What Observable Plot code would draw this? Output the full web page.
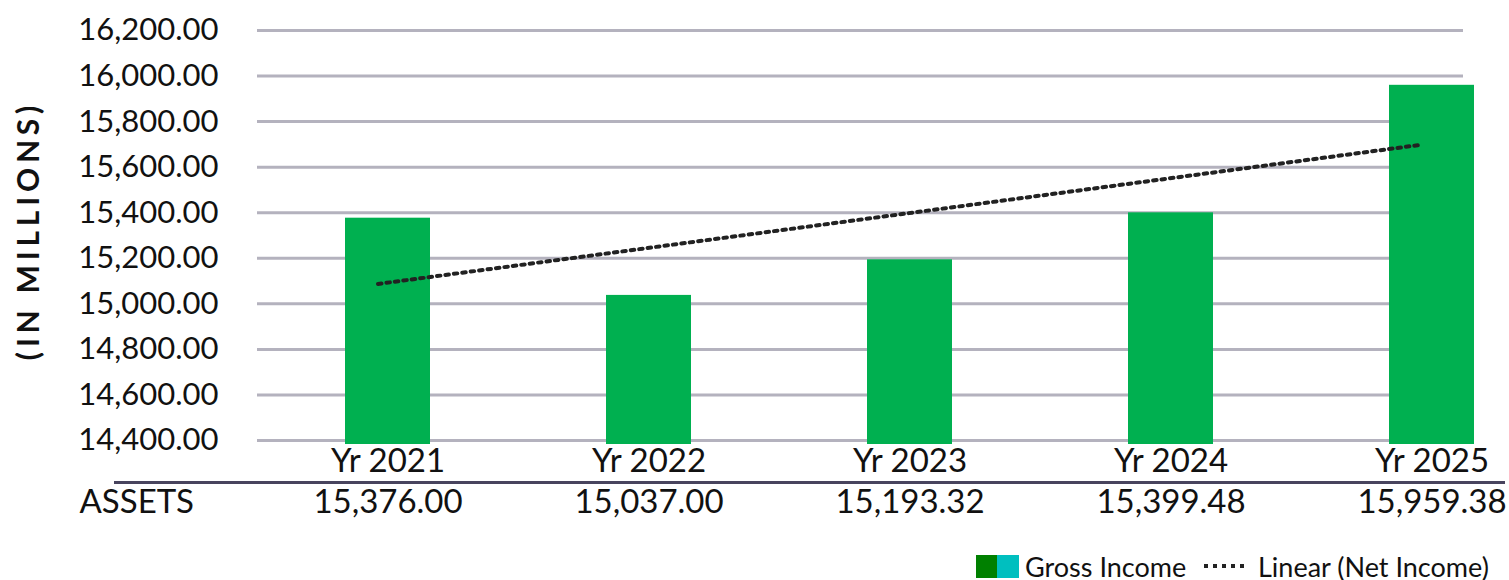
<!DOCTYPE html>
<html>
<head>
<meta charset="utf-8">
<script src="https://cdn.jsdelivr.net/npm/d3@7"></script>
<script src="https://cdn.jsdelivr.net/npm/@observablehq/plot@0.6"></script>
<style>
  html, body { margin: 0; padding: 0; background: #fff; }
  body { width: 1509px; height: 580px; overflow: hidden; font-family: Lato, "Open Sans", sans-serif; color: #111; }
  #legend { position: relative; width: 1509px; height: 40px; font-size: 27px; }
  #legend .sw { position: absolute; top: 15px; width: 22px; height: 23px; }
  #legend .lbl { position: absolute; top: 26px; transform: translateY(-50%); white-space: nowrap; line-height: 1; }
  #legend svg { position: absolute; top: 0; }
</style>
</head>
<body>
<div id="chart"></div>
<div id="legend">
  <div class="sw" style="left:976px;background:#008000"></div>
  <div class="sw" style="left:997px;background:#00BFBF"></div>
  <div class="lbl" style="left:1025px">Gross Income</div>
  <svg style="left:1200px" width="50" height="40"><line x1="4" x2="44" y1="26" y2="26" stroke="#222" stroke-width="4" stroke-dasharray="4,5"></line></svg>
  <div class="lbl" style="left:1258px">Linear (Net Income)</div>
</div>
<script>
const years = ["Yr 2021", "Yr 2022", "Yr 2023", "Yr 2024", "Yr 2025"];
const assets = [15376.00, 15037.00, 15193.32, 15399.48, 15959.38];
const yTicks = [14400, 14600, 14800, 15000, 15200, 15400, 15600, 15800, 16000, 16200];
const rowLabel = "ASSETS";
const yTitle = "(IN MILLIONS)";

const data = years.map((year, i) => ({year, value: assets[i]}));
const fmt = d3.format(",.2f");

// least-squares linear trend over the category index
const n = assets.length;
const xs = assets.map((_, i) => i + 1);
const mx = d3.mean(xs), my = d3.mean(assets);
const slope = d3.sum(xs, (x, i) => (x - mx) * (assets[i] - my)) / d3.sum(xs, x => (x - mx) ** 2);
const intercept = my - slope * mx;
const trend = [0, n - 1].map(i => ({year: years[i], value: intercept + slope * (i + 1)}));

const yMin = yTicks[0], yMax = yTicks[yTicks.length - 1];

const chart = Plot.plot({
  width: 1509,
  height: 540,
  marginTop: 30,
  marginBottom: 100,
  marginLeft: 257,
  marginRight: 46,
  style: {fontFamily: "Lato, 'Open Sans', sans-serif", color: "#111", background: "#fff"},
  x: {domain: years, range: [257, 1562], paddingInner: 0.676, paddingOuter: 0.338, axis: null},
  y: {domain: [yMin, yMax], axis: null},
  marks: [
    Plot.ruleY(yTicks, {stroke: "#b4b2be", strokeWidth: 3}),
    Plot.axisY(yTicks, {tickSize: 0, tickPadding: 39, tickFormat: fmt, fontSize: 31, label: null}),
    Plot.barY(data, {x: "year", y1: yMin, y2: "value", fill: "#00B050", insetBottom: -4}),
    Plot.line(trend, {x: "year", y: "value", stroke: "#222", strokeWidth: 4, strokeDasharray: "3.5,5", dx: -10}),
    Plot.text(years, {x: d => d, text: d => d, frameAnchor: "bottom", dy: 21, fontSize: 33, lineAnchor: "middle"}),
    Plot.ruleY([yMin], {dy: 42, insetLeft: -143, insetRight: -42, stroke: "#48445e", strokeWidth: 3}),
    Plot.text(data, {x: "year", text: d => fmt(d.value), frameAnchor: "bottom", dy: 62, fontSize: 33, lineAnchor: "middle"}),
    Plot.text([rowLabel], {frameAnchor: "bottom-left", dx: -178, dy: 62, textAnchor: "start", fontSize: 33, lineAnchor: "middle"}),
    Plot.text([yTitle], {frameAnchor: "left", textAnchor: "middle", dx: -228, dy: -5, rotate: -90, fontSize: 30, fontWeight: "bold", lineAnchor: "middle"})
  ]
});
d3.select(chart).selectAll("text").filter(function() { return this.textContent === yTitle; })
  .style("letter-spacing", "4.8px");
document.getElementById("chart").appendChild(chart);
</script>
</body>
</html>
